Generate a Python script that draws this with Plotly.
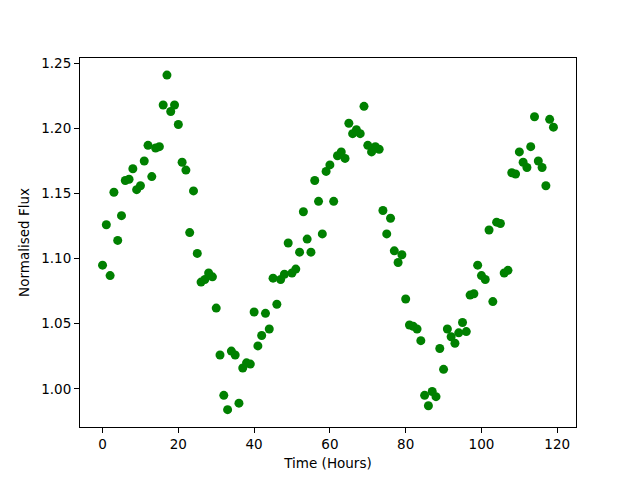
import plotly.graph_objects as go

hours = list(range(120))
flux = [
    1.095, 1.126, 1.087, 1.151, 1.114, 1.133, 1.160, 1.161, 1.169, 1.153,
    1.156, 1.175, 1.187, 1.163, 1.185, 1.186, 1.218, 1.241, 1.213, 1.218,
    1.203, 1.174, 1.168, 1.120, 1.152, 1.104, 1.082, 1.084, 1.089, 1.086,
    1.062, 1.026, 0.995, 0.984, 1.029, 1.026, 0.989, 1.016, 1.020, 1.019,
    1.059, 1.033, 1.041, 1.058, 1.046, 1.085, 1.065, 1.084, 1.088, 1.112,
    1.089, 1.092, 1.105, 1.136, 1.115, 1.105, 1.160, 1.144, 1.119, 1.167,
    1.172, 1.144, 1.179, 1.182, 1.177, 1.204, 1.196, 1.199, 1.196, 1.217,
    1.187, 1.182, 1.186, 1.184, 1.137, 1.119, 1.131, 1.106, 1.097, 1.103,
    1.069, 1.049, 1.048, 1.046, 1.037, 0.995, 0.987, 0.998, 0.994, 1.031,
    1.015, 1.046, 1.040, 1.035, 1.043, 1.051, 1.044, 1.072, 1.073, 1.095,
    1.087, 1.084, 1.122, 1.067, 1.128, 1.127, 1.089, 1.091, 1.166, 1.165,
    1.182, 1.174, 1.170, 1.186, 1.209, 1.175, 1.170, 1.156, 1.207, 1.201,
]

fig = go.Figure(go.Scatter(
    x=hours, y=flux, mode="markers",
    marker=dict(color="#008000", size=9, line=dict(width=0)),
))

FONT = dict(family="DejaVu Sans", size=13.5, color="black")

axis_common = dict(
    showgrid=False, zeroline=False, showline=True, linecolor="black",
    linewidth=1, mirror=True, ticks="outside", ticklen=5, tickcolor="black",
    automargin=False, tickfont=FONT,
)

fig.update_layout(
    width=640, height=480,
    margin=dict(l=72, r=72, t=50, b=61, pad=0),
    paper_bgcolor="white", plot_bgcolor="white",
    showlegend=False,
    font=FONT,
    xaxis=dict(range=[-5.95, 124.95], dtick=20, tick0=0,
               title=dict(text="Time (Hours)", standoff=7, font=FONT),
               **axis_common),
    yaxis=dict(range=[0.9707, 1.2541], dtick=0.05, tick0=1.0, tickformat=".2f",
               title=dict(text="Normalised Flux", standoff=8, font=FONT),
               **axis_common),
)

fig.write_html("out.html")
